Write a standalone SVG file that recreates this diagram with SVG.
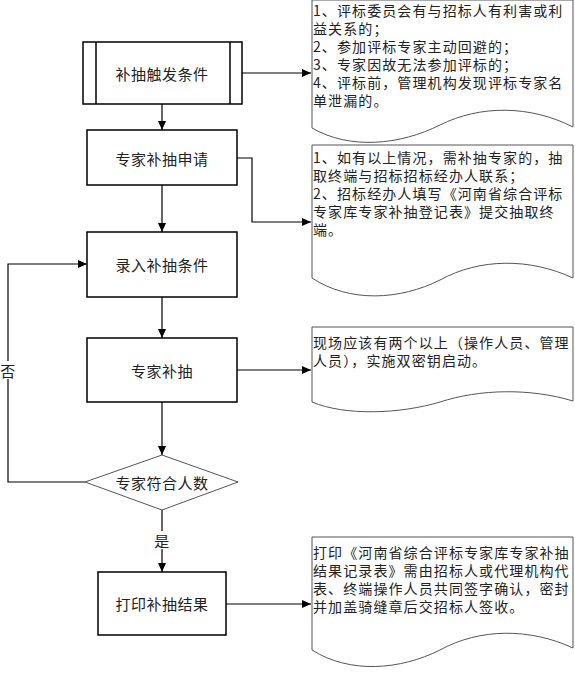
<svg xmlns="http://www.w3.org/2000/svg" width="575" height="674" viewBox="0 0 575 674">
<style>
.box{fill:#fff;stroke:#000;stroke-width:1.5}
.doc{fill:#fff;stroke:#555;stroke-width:1}
.dia{fill:#fff;stroke:#555;stroke-width:1}
.lbl{font-family:"Noto Sans CJK SC","Noto Sans",sans-serif;font-size:15px;letter-spacing:0.5px;fill:#222;text-anchor:middle;dominant-baseline:central}
.txt{font-family:"Noto Sans CJK SC","Noto Sans",sans-serif;font-size:14px;letter-spacing:1.1px;fill:#222}
.ln{fill:none;stroke:#000;stroke-width:1.2}
</style>
<defs>
<marker id="ah" markerWidth="10" markerHeight="10" refX="9" refY="5" orient="auto" markerUnits="userSpaceOnUse">
<path d="M0,1 L9,5 L0,9 Z" fill="#000"/>
</marker>
</defs>
<g id="connectors">
<line class="ln" x1="162" y1="104" x2="162" y2="130" marker-end="url(#ah)"/>
<line class="ln" x1="162" y1="185" x2="162" y2="232" marker-end="url(#ah)"/>
<line class="ln" x1="162" y1="297" x2="162" y2="338" marker-end="url(#ah)"/>
<line class="ln" x1="162" y1="402" x2="162" y2="455" marker-end="url(#ah)"/>
<line class="ln" x1="162" y1="510" x2="162" y2="572" marker-end="url(#ah)"/>
<polyline class="ln" points="85,482 8,482 8,264 87,264" marker-end="url(#ah)"/>
<line class="ln" x1="242" y1="73" x2="311" y2="73" marker-end="url(#ah)"/>
<polyline class="ln" points="237,158 252,158 252,222 311,222" marker-end="url(#ah)"/>
<line class="ln" x1="237" y1="370" x2="311" y2="370" marker-end="url(#ah)"/>
<line class="ln" x1="226" y1="604" x2="311" y2="604" marker-end="url(#ah)"/>
<rect x="1" y="361" width="15" height="18" fill="#fff"/>
<text class="lbl" x="8" y="370">否</text>
<rect x="154" y="531" width="16" height="18" fill="#fff"/>
<text class="lbl" x="162" y="540">是</text>
</g>
<g id="n1">
<rect class="box" x="83" y="42" width="159" height="62"/>
<line class="box" x1="96" y1="42" x2="96" y2="104"/>
<line class="box" x1="230" y1="42" x2="230" y2="104"/>
<text class="lbl" x="162" y="73">补抽触发条件</text>
</g>
<g id="n2">
<rect class="box" x="87" y="130" width="150" height="55"/>
<text class="lbl" x="162" y="158">专家补抽申请</text>
</g>
<g id="n3">
<rect class="box" x="87" y="232" width="150" height="65"/>
<text class="lbl" x="162" y="264">录入补抽条件</text>
</g>
<g id="n4">
<rect class="box" x="87" y="338" width="150" height="64"/>
<text class="lbl" x="162" y="370">专家补抽</text>
</g>
<g id="n5">
<polygon class="dia" points="162,455 238,482 162,510 85,482"/>
<text class="lbl" x="162" y="482">专家符合人数</text>
</g>
<g id="n6">
<rect class="box" x="98" y="572" width="128" height="63"/>
<text class="lbl" x="162" y="603">打印补抽结果</text>
</g>
<g id="d1">
<path class="doc" d="M312,0 H573 V127 C530,105 480,105 440,125 C400,145 350,150 312,128 Z"/>
<text class="txt"><tspan x="313" y="16">1、评标委员会有与招标人有利害或利</tspan><tspan x="313" y="34">益关系的；</tspan><tspan x="313" y="52">2、参加评标专家主动回避的；</tspan><tspan x="313" y="70">3、专家因故无法参加评标的；</tspan><tspan x="313" y="88">4、评标前，管理机构发现评标专家名</tspan><tspan x="313" y="106">单泄漏的。</tspan></text>
</g>
<g id="d2">
<path class="doc" d="M312,145 H573 V278 C530,258 480,258 440,280 C400,300 350,303 312,278 Z"/>
<text class="txt"><tspan x="313" y="163">1、如有以上情况，需补抽专家的，抽</tspan><tspan x="313" y="181">取终端与招标招标经办人联系；</tspan><tspan x="313" y="199">2、招标经办人填写《河南省综合评标</tspan><tspan x="313" y="217">专家库专家补抽登记表》提交抽取终</tspan><tspan x="313" y="235">端。</tspan></text>
</g>
<g id="d3">
<path class="doc" d="M312,327 H573 V401 C530,388 480,389 440,402 C400,414 345,416 312,402 Z"/>
<text class="txt"><tspan x="313" y="348">现场应该有两个以上（操作人员、管理</tspan><tspan x="313" y="366">人员），实施双密钥启动。</tspan></text>
</g>
<g id="d4">
<path class="doc" d="M312,537 H573 V648 C530,628 480,628 440,650 C400,670 350,674 312,650 Z"/>
<text class="txt"><tspan x="313" y="558">打印《河南省综合评标专家库专家补抽</tspan><tspan x="313" y="576">结果记录表》需由招标人或代理机构代</tspan><tspan x="313" y="594">表、终端操作人员共同签字确认，密封</tspan><tspan x="313" y="612">并加盖骑缝章后交招标人签收。</tspan></text>
</g>
</svg>
